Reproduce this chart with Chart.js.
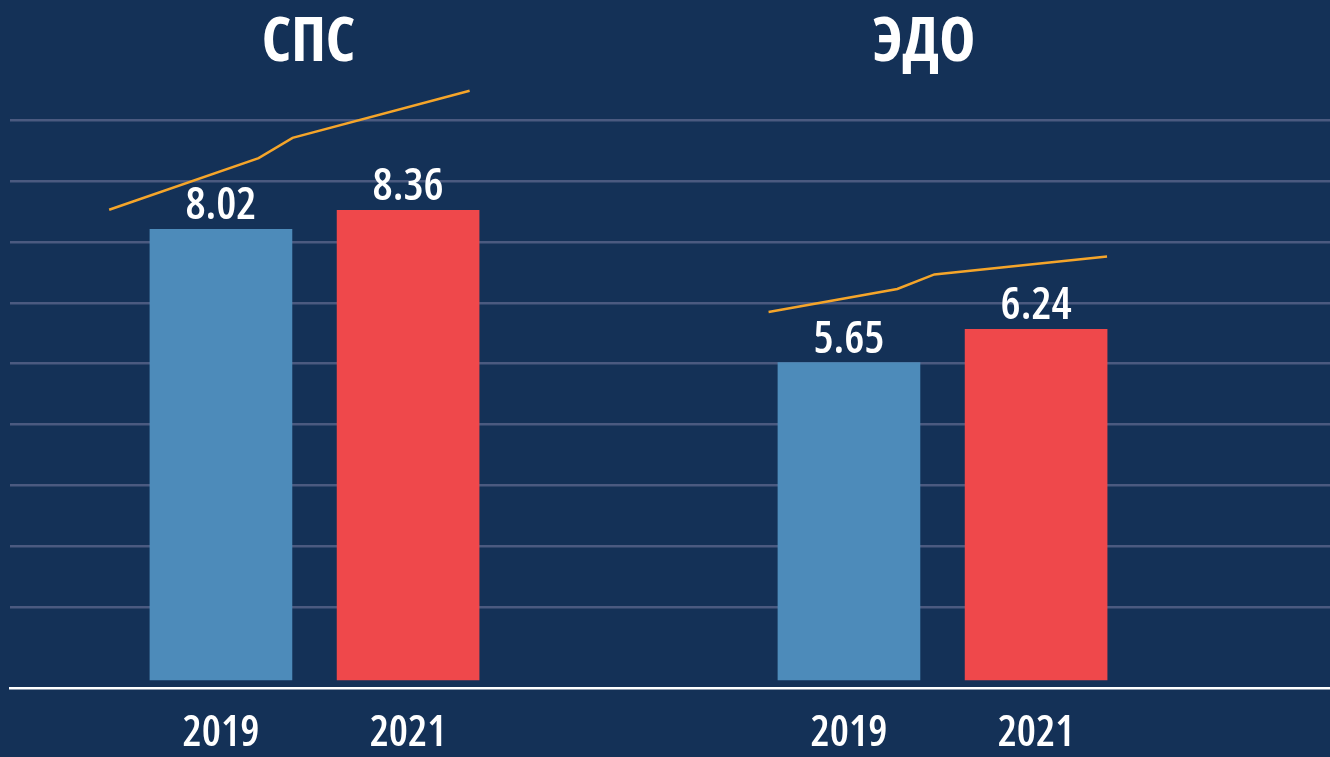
<!DOCTYPE html>
<html><head><meta charset="utf-8">
<script src="https://cdn.jsdelivr.net/npm/chart.js@4/dist/chart.umd.min.js"></script>
<style>
html,body{margin:0;padding:0;background:#143157;overflow:hidden}
#wrap{width:1330px;height:757px;position:relative}
</style>
</head><body><div id="wrap"><canvas id="c"></canvas></div>
<script>
// ---- data ----
const categories = ['СПС', 'ЭДО'];
const years = ['2019', '2021'];
const values2019 = [8.02, 5.65];
const values2021 = [8.36, 6.24];
// decorative orange trend lines (x in group units, y in value units)
const trendSpsX = [-0.327, -0.089, -0.035, 0.247];
const trendSpsY = [8.37, 9.29, 9.65, 10.49];
const trendEdoX = [0.723, 0.928, 0.987, 1.262];
const trendEdoY = [6.55, 6.96, 7.22, 7.54];

// ---- layout / style ----
const yearOffset = [-0.149, 0.149];
const FONT = "'Open Sans', 'Roboto Condensed', sans-serif";
const TITLE_WEIGHT = 'bold condensed';
const NUM_WEIGHT = '600 condensed';
const BLUE = '#4d8bba';
const RED = '#ef484b';
const ORANGE = '#f5a52a';
const GRID = '#4b5a80';

function barData(vals, j) {
  return vals.map((v, i) => ({ x: i + yearOffset[j], y: v }));
}
function lineData(xs, ys) { return xs.map((x, i) => ({ x, y: ys[i] })); }

const valueLabels = {
  id: 'valueLabels',
  afterDatasetsDraw(chart) {
    const ctx = chart.ctx;
    ctx.save();
    ctx.fillStyle = '#ffffff';
    ctx.font = NUM_WEIGHT + " 45px " + FONT;
    ctx.textAlign = 'center';
    ctx.textBaseline = 'alphabetic';
    chart.data.datasets.forEach((ds, di) => {
      if (ds.type !== 'bar') return;
      const meta = chart.getDatasetMeta(di);
      meta.data.forEach((el, i) => {
        ctx.fillText(ds.data[i].y.toFixed(2), el.x, el.y - 10);
      });
    });
    ctx.restore();
  }
};

new Chart(document.getElementById('c'), {
  data: {
    datasets: [
      { type: 'bar', label: years[0], data: barData(values2019, 0), backgroundColor: BLUE,
        barThickness: 142, grouped: false, xAxisID: 'x', yAxisID: 'y', order: 2 },
      { type: 'bar', label: years[1], data: barData(values2021, 1), backgroundColor: RED,
        barThickness: 142, grouped: false, xAxisID: 'x', yAxisID: 'y', order: 2 },
      { type: 'line', label: categories[0] + ' trend', data: lineData(trendSpsX, trendSpsY),
        borderColor: ORANGE, borderWidth: 2.5, pointRadius: 0, tension: 0, fill: false,
        xAxisID: 'x', yAxisID: 'y', order: 1 },
      { type: 'line', label: categories[1] + ' trend', data: lineData(trendEdoX, trendEdoY),
        borderColor: ORANGE, borderWidth: 2.5, pointRadius: 0, tension: 0, fill: false,
        xAxisID: 'x', yAxisID: 'y', order: 1 }
    ]
  },
  options: {
    responsive: true,
    maintainAspectRatio: false,
    animation: false,
    layout: { padding: { left: 10, right: 0, top: 0, bottom: -21.7 } },
    plugins: { legend: { display: false }, tooltip: { enabled: false } },
    scales: {
      x: {
        type: 'linear', position: 'bottom', offset: false,
        min: -0.4849, max: 1.617,
        grid: { display: false, drawTicks: false, offset: false },
        border: { display: true, color: '#ffffff', width: 2.5 },
        afterBuildTicks: s => {
          const t = [];
          categories.forEach((c, i) => years.forEach((y, j) => t.push({ value: i + yearOffset[j] })));
          s.ticks = t;
        },
        ticks: {
          autoSkip: false, maxRotation: 0, padding: 19.2,
          color: '#ffffff',
          font: { family: FONT, weight: NUM_WEIGHT, size: 43, lineHeight: 1.2 },
          callback: (v, idx) => years[idx % years.length]
        }
      },
      xt: {
        type: 'linear', position: 'top',
        min: -0.4852, max: 1.6604,
        grid: { display: false, drawTicks: false },
        border: { display: false },
        afterBuildTicks: s => { s.ticks = categories.map((c, i) => ({ value: i })); },
        ticks: {
          autoSkip: false, maxRotation: 0, padding: 9,
          color: '#ffffff',
          font: { family: FONT, weight: TITLE_WEIGHT, size: 61, lineHeight: 1.15 },
          callback: (v, idx) => categories[idx]
        }
      },
      y: {
        type: 'linear', display: false,
        min: -0.155, max: 10.535
      },
      yg: {
        type: 'linear', position: 'left',
        min: -1.334, max: 8.523,
        afterBuildTicks: s => {
          const t = [];
          for (let g = 0; g <= 8; g++) t.push({ value: g });
          s.ticks = t;
        },
        grid: { color: GRID, lineWidth: 2.5, drawTicks: false },
        border: { display: false },
        ticks: { display: false }
      }
    }
  },
  plugins: [valueLabels]
});
</script>
</body></html>
